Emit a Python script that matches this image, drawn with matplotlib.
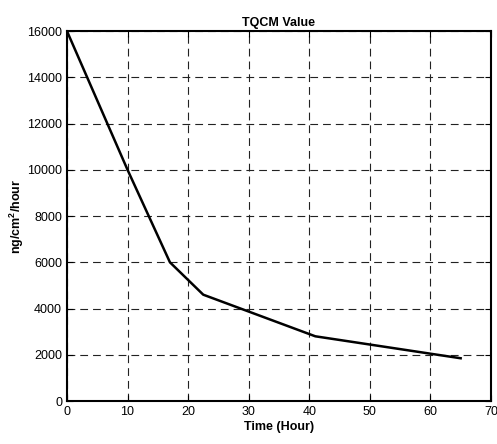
import matplotlib
matplotlib.use('Agg')
import matplotlib.pyplot as plt

# data
hours = [0, 10, 17, 22.5, 41, 65]
tqcm = [16000, 10000, 6000, 4600, 2800, 1850]
x_ticks = [0, 10, 20, 30, 40, 50, 60, 70]
y_ticks = [0, 2000, 4000, 6000, 8000, 10000, 12000, 14000, 16000]

plt.rcParams['font.family'] = ['Liberation Sans', 'DejaVu Sans']
plt.rcParams['mathtext.fontset'] = 'custom'
plt.rcParams['mathtext.rm'] = 'Liberation Sans'
plt.rcParams['mathtext.bf'] = 'Liberation Sans:bold'

fig = plt.figure(figsize=(4.97, 4.44), dpi=100)
ax = fig.add_axes([0.1348, 0.0968, 0.853, 0.833])

ax.plot(hours, tqcm, color='black', linewidth=1.8)

ax.set_xlim(0, 70)
ax.set_ylim(0, 16000)
ax.set_xticks(x_ticks)
ax.set_yticks(y_ticks)
ax.tick_params(direction='in', top=True, right=True, labelsize=9, length=4)
ax.grid(True, color='#222222', linestyle=(0, (7, 4.5)), linewidth=0.8)

for s in ax.spines.values():
    s.set_linewidth(1.5)

ax.set_title('TQCM Value', fontsize=9, fontweight='bold', pad=4)
ax.set_xlabel('Time (Hour)', fontsize=9, fontweight='bold', labelpad=2)
ax.set_ylabel(r'ng/cm$\mathbf{^2}$/hour', fontsize=9, fontweight='bold', labelpad=1)

fig.savefig('out.png', dpi=100)
